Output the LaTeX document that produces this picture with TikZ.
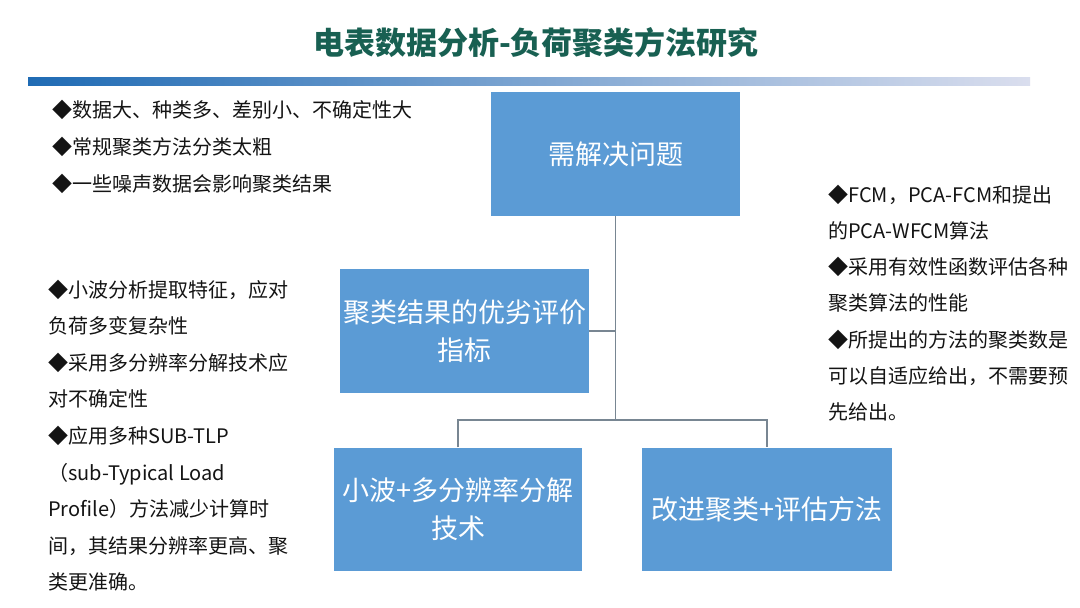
\documentclass[tikz,border=0pt]{standalone}
\usepackage{fontspec}
\newfontfamily\cjk{Noto Sans CJK SC}
\definecolor{boxblue}{RGB}{91,155,213}
\definecolor{titlecol}{RGB}{24,96,82}
\definecolor{barA}{RGB}{31,107,180}
\definecolor{barB}{RGB}{192,203,230}
\definecolor{barC}{RGB}{218,222,238}
\definecolor{conncol}{RGB}{120,134,146}
\tikzset{
  boxnode/.style={fill=boxblue, draw=none, text=white, align=center, inner sep=0pt,
    font=\cjk\fontsize{27}{38}\selectfont},
  txt/.style={anchor=west, inner sep=0pt, text height=17pt, text depth=3pt,
    font=\cjk\fontsize{20}{24}\selectfont, text=black!92},
  conn/.style={draw=conncol, line width=1.2pt},
}
\begin{document}
\begin{tikzpicture}[x=1pt,y=-1pt]
\useasboundingbox (0,0) rectangle (1080,608);
\fill[white] (0,0) rectangle (1080,608);
% title
\node[font=\cjk\bfseries\fontsize{31}{36}\selectfont, text=titlecol, inner sep=0pt] (title) at (536,43) {电表数据分析-负荷聚类方法研究};
% gradient bar
\shade[left color=barA, middle color=barB, right color=barC] (28,77) rectangle (1030,85);
% boxes
\node[boxnode, minimum width=249pt, minimum height=124pt] (top) at (615.5,154) {需解决问题};
\node[boxnode, minimum width=249pt, minimum height=124pt] (eval) at (464.5,331) {聚类结果的优劣评价\\指标};
\node[boxnode, minimum width=248pt, minimum height=123pt] (wave) at (458,509) {小波+多分辨率分解\\技术};
\node[boxnode, minimum width=250pt, minimum height=123pt] (impr) at (767,509) {改进聚类+评估方法};
% connectors
\coordinate (hub) at (616,420);
\draw[conn] (top.south) -- (top.south |- hub);
\draw[conn] (eval.east) -- (eval.east -| hub);
\draw[conn] (wave.north) |- (hub) -| (impr.north);
% left top text
\foreach \t [count=\i] in {{◆数据大、种类多、差别小、不确定性大},{◆常规聚类方法分类太粗},{◆一些噪声数据会影响聚类结果}}
  \node[txt] (lt\i) at (52,{110+37*(\i-1)}) {\t};
% left middle text
\foreach \t [count=\i] in {{◆小波分析提取特征，应对},{负荷多变复杂性},{◆采用多分辨率分解技术应},{对不确定性},{◆应用多种SUB-TLP},{（sub-Typical Load},{Profile）方法减少计算时},{间，其结果分辨率更高、聚},{类更准确。}}
  \node[txt] (lm\i) at (48,{290+36.6*(\i-1)}) {\t};
% right text
\foreach \t [count=\i] in {{◆FCM，PCA-FCM和提出},{的PCA-WFCM算法},{◆采用有效性函数评估各种},{聚类算法的性能},{◆所提出的方法的聚类数是},{可以自适应给出，不需要预},{先给出。}}
  \node[txt] (rt\i) at (828,{195+36.3*(\i-1)}) {\t};
\end{tikzpicture}
\end{document}
